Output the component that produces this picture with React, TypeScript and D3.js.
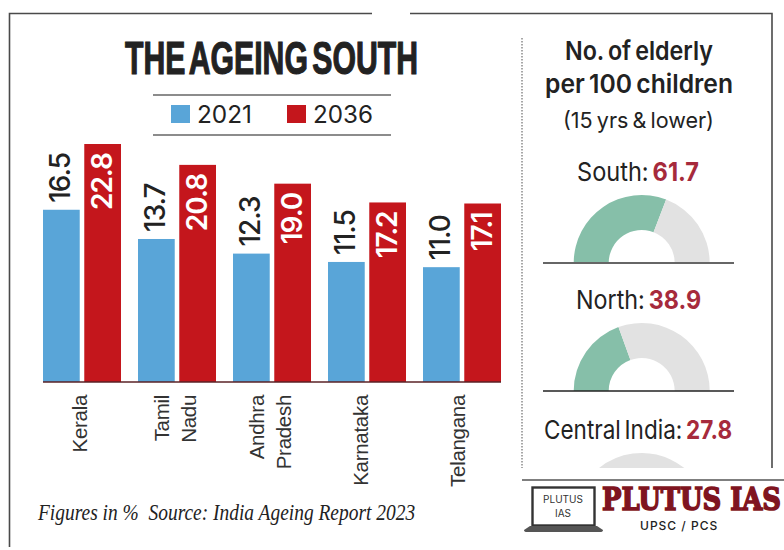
import React, { useLayoutEffect, useRef } from "react";
import * as d3 from "d3";

// Share of elderly population by state, in per cent
const states = ["Kerala", "Tamil Nadu", "Andhra Pradesh", "Karnataka", "Telangana"];
const values2021 = [16.5, 13.7, 12.3, 11.5, 11.0];
const values2036 = [22.8, 20.8, 19.0, 17.2, 17.1];
const stateLabelLines = [["Kerala"], ["Tamil", "Nadu"], ["Andhra", "Pradesh"], ["Karnataka"], ["Telangana"]];

// Elderly per 100 children by region
const regions = ["South", "North", "Central India"];
const regionValues = [61.7, 38.9, 27.8];

const BLUE = "#59a5d8";
const RED = "#c4161c";
const GREEN = "#86bfa9";
const GREY = "#e2e2e2";
const INK = "#222222";
const WINE = "#a62a3c";
const SANS = "Inter, 'Liberation Sans', sans-serif";

const W = 784;
const H = 550;
const baseline = 382;
const barTop = 144;
const gaugeX = 641.7;
const gaugeBases = [263, 391, 521];
const regionLabelY = [181, 309, 439];
const regionLabelX = [577, 576, 544];
const regionLabelWidths = [122, 125, 188];
const stateLabelShift = [-2, -1.5, -2, -6, -4];

const band = d3.scaleBand<string>().domain(states).range([43, 501]).paddingInner(17 / 95).paddingOuter(0);
const inner = d3.scaleBand<string>().domain(["2021", "2036"]).range([0, band.bandwidth()]).paddingInner(0.11);
const y = d3.scaleLinear().domain([0, 22.8]).range([baseline, barTop]);

const arc = d3.arc<{ from: number; to: number }>()
  .innerRadius(33)
  .outerRadius(68)
  .startAngle((d) => -Math.PI / 2 + (Math.PI * d.from) / 100)
  .endAngle((d) => -Math.PI / 2 + (Math.PI * d.to) / 100);

// Squeezes a text horizontally so that it occupies exactly the given width.
function FitText(props: { x: number; y: number; width: number; children: React.ReactNode; [key: string]: unknown }) {
  const { x, y: yy, width, children, ...rest } = props;
  const ref = useRef<SVGTextElement>(null);
  useLayoutEffect(() => {
    const el = ref.current;
    if (!el) return;
    const apply = () => {
      const natural = el.getComputedTextLength();
      el.setAttribute("transform", `translate(${x},${yy}) scale(${width / natural},1)`);
    };
    apply();
    document.fonts?.ready.then(apply);
  }, [x, yy, width]);
  return (
    <text ref={ref} transform={`translate(${x},${yy})`} {...rest}>
      {children}
    </text>
  );
}

function Upright(props: { x: number; y: number; anchor: string; size: number; weight?: number; fill: string; children: string }) {
  const { x, y: yy, anchor, size, weight = 400, fill, children } = props;
  return (
    <text transform={`translate(${x},${yy}) rotate(-90)`} textAnchor={anchor} fontSize={size} fontWeight={weight} fill={fill} fontFamily={SANS} letterSpacing={-1}>
      {children}
    </text>
  );
}

export default function App() {
  return (
    <svg width={W} height={H} viewBox={`0 0 ${W} ${H}`} style={{ position: "absolute", left: 0, top: 0, background: "#fff" }}>
      <defs>
        <clipPath id="panel-clip">
          <rect x={0} y={0} width={W} height={468} />
        </clipPath>
      </defs>

      {/* Outer frame */}
      <path d="M9.5 547V13.5H772V468" fill="none" stroke="#4a4a4a" strokeWidth={1.6} />
      <rect x={372} y={11} width={38} height={5} fill="#fff" />

      {/* Title and legend */}
      <FitText x={125} y={74} width={293} fontSize={46} fontWeight={700} fill={INK} wordSpacing={-6} fontFamily="'Liberation Sans Narrow', 'Liberation Sans', sans-serif" stroke={INK} strokeWidth={1.2}>
        THE AGEING SOUTH
      </FitText>
      <line x1={153} x2={391} y1={95} y2={95} stroke="#666" strokeWidth={1.5} />
      <line x1={153} x2={391} y1={135} y2={135} stroke="#666" strokeWidth={1.5} />
      <rect x={171} y={105} width={19} height={18} fill={BLUE} />
      <FitText x={197} y={123} width={55} fontSize={24} fill={INK} fontFamily={SANS}>2021</FitText>
      <rect x={287} y={105} width={19} height={18} fill={RED} />
      <FitText x={313} y={123} width={60} fontSize={24} fill={INK} fontFamily={SANS}>2036</FitText>

      {/* Bars */}
      {states.map((s, i) => {
        const x0 = band(s)!;
        const xa = x0 + inner("2021")!;
        const xb = x0 + inner("2036")!;
        const bw = inner.bandwidth();
        return (
          <g key={s}>
            <rect x={xa} y={y(values2021[i])} width={bw} height={baseline - y(values2021[i])} fill={BLUE} />
            <rect x={xb} y={y(values2036[i])} width={bw} height={baseline - y(values2036[i])} fill={RED} />
            <Upright x={xa + bw / 2 + 9} y={y(values2021[i]) - 7} anchor="start" size={28} weight={500} fill={INK}>
              {values2021[i].toFixed(1)}
            </Upright>
            <Upright x={xb + bw / 2 + 9} y={y(values2036[i]) + 9} anchor="end" size={28} weight={600} fill="#fff">
              {values2036[i].toFixed(1)}
            </Upright>
            {stateLabelLines[i].map((line, k) => {
              const cx = x0 + band.bandwidth() / 2 + stateLabelShift[i] + (k - (stateLabelLines[i].length - 1) / 2) * 27;
              return (
                <text
                  key={line}
                  transform={`translate(${cx + 7},395) rotate(-90)`}
                  textAnchor="end"
                  fontSize={20.5}
                  letterSpacing={-0.3}
                  fill="#333"
                  fontFamily="'Liberation Sans', sans-serif"
                >
                  {line}
                </text>
              );
            })}
          </g>
        );
      })}
      <line x1={43} x2={501} y1={baseline} y2={baseline} stroke="#5a2226" strokeWidth={1.6} />

      {/* Footnote */}
      <FitText x={38} y={520} width={377} fontSize={23} fontStyle="italic" fill={INK} fontFamily="'Liberation Serif', serif">
        Figures in %{"\u00a0\u00a0"}Source: India Ageing Report 2023
      </FitText>

      {/* Divider */}
      <line x1={522} x2={522} y1={38} y2={468} stroke="#8a8a8a" strokeWidth={1.5} strokeDasharray="1.5 1.5" />

      {/* Right-hand panel */}
      <FitText x={565} y={60} width={148} fontSize={26} fontWeight={600} fill={INK} wordSpacing={-2} fontFamily={SANS}>No. of elderly</FitText>
      <FitText x={545} y={93} width={188} fontSize={26} fontWeight={600} fill={INK} wordSpacing={-2} fontFamily={SANS}>per 100 children</FitText>
      <FitText x={563} y={128} width={151} fontSize={22} fill={INK} wordSpacing={-2} fontFamily={SANS}>(15 yrs &amp; lower)</FitText>

      {regions.map((r, i) => (
        <g key={r}>
          <FitText x={regionLabelX[i]} y={regionLabelY[i]} width={regionLabelWidths[i]} fontSize={26} fill={INK} wordSpacing={-3} fontFamily={SANS}>
            {r}: <tspan fontWeight={700} fill={WINE}>{regionValues[i].toFixed(1)}</tspan>
          </FitText>
          <g clipPath="url(#panel-clip)">
            <g transform={`translate(${gaugeX},${gaugeBases[i]})`}>
              <path d={arc({ from: 0, to: regionValues[i] })!} fill={GREEN} />
              <path d={arc({ from: regionValues[i], to: 100 })!} fill={GREY} />
            </g>
            <line x1={543} x2={734} y1={gaugeBases[i]} y2={gaugeBases[i]} stroke={i === 0 ? "#666" : "#222"} strokeWidth={i === 0 ? 2 : 1.6} />
          </g>
        </g>
      ))}

      {/* Publisher mark */}
      <rect x={510} y={468} width={274} height={82} fill="#fff" />
      <line x1={522} x2={784} y1={480} y2={480} stroke="#555" strokeWidth={1.4} />
      <rect x={532.5} y={487.5} width={62} height={38} fill="#fff" stroke="#333" strokeWidth={2.4} />
      <path d="M524 530 L530 526 H597 L603 530 Q603 532 600 532 H527 Q524 532 524 530Z" fill="#555" />
      <text x={563} y={503} textAnchor="middle" fontSize={10} fill="#333" fontFamily={SANS}>PLUTUS</text>
      <text x={563} y={517} textAnchor="middle" fontSize={10} fill="#333" fontFamily={SANS}>IAS</text>
      <FitText x={602} y={510} width={179} fontSize={31} fontWeight={700} fill="#7f1420" stroke="#7f1420" strokeWidth={1.6} fontFamily="'DejaVu Serif', serif">
        PLUTUS IAS
      </FitText>
      <text x={640} y={530} fontSize={12} fontWeight={500} letterSpacing={1} fill="#222" fontFamily={SANS}>UPSC / PCS</text>
    </svg>
  );
}
